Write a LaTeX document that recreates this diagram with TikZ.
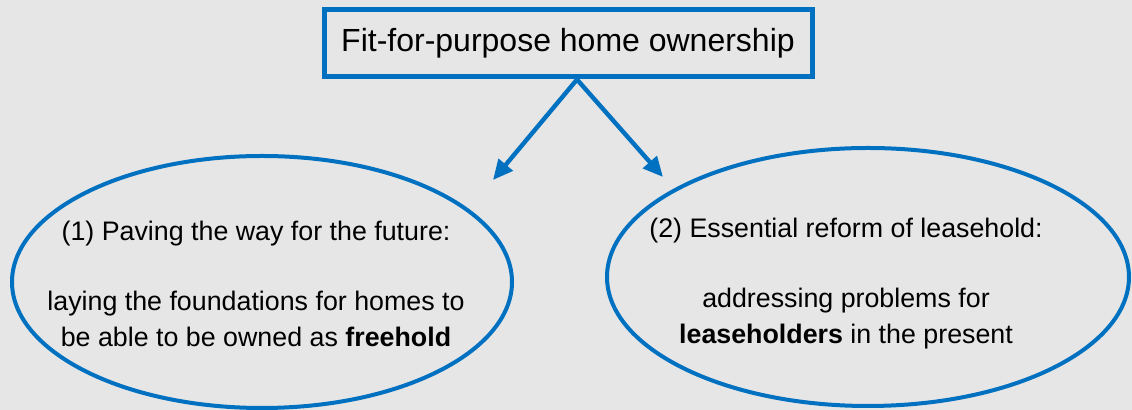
\documentclass[tikz,border=0pt]{standalone}
\usepackage{fontspec}
\setmainfont{Liberation Sans}
\usetikzlibrary{shapes.geometric,arrows.meta}

\definecolor{backcolor}{RGB}{230,230,230}
\definecolor{linkcolor}{RGB}{0,112,192}

\begin{document}
\begin{tikzpicture}[x=0.5pt,y=-0.5pt,font=\fontsize{13.4pt}{18pt}\selectfont]
  % Background
  \fill[backcolor](0,0) rectangle (1132,410);
  \useasboundingbox (0,0) rectangle (1132,410);
  % Title
  \node at(568,43.5)[rectangle,draw=linkcolor,line width=2.5pt,minimum width=244pt,minimum height=33.5pt,font=\fontsize{16pt}{19pt}\selectfont](title){Fit-for-purpose home ownership};
  % Ellipses
  \node at(262,282)[ellipse,draw=linkcolor,line width=2pt,minimum width=250pt,minimum height=126pt,inner sep=0pt](future){};
  \node at(868,277)[ellipse,draw=linkcolor,line width=2pt,minimum width=261pt,minimum height=129pt,inner sep=0pt](lease){};
  % Texts in the ellipses
  \node at(256,284)[align=center](futuretext){(1) Paving the way for the future:\\[17pt]laying the foundations for homes to\\be able to be owned as \textbf{freehold}};
  \node at(846,284)[align=center](leasetext){(2) Essential reform of leasehold:\\[17pt]addressing problems for\\\textbf{leaseholders} in the present};
  % Arrows
  \coordinate (start) at ([xshift=4.5pt]title.south);
  \coordinate (futureend) at (493,180);
  \coordinate (leaseend) at (663,177);
  \draw [-{Triangle[length=10pt,width=9pt]},linkcolor,line width=2.2pt](start) -- (futureend);
  \draw [-{Triangle[length=10pt,width=9pt]},linkcolor,line width=2.2pt](start) -- (leaseend);
\end{tikzpicture}
\end{document}
